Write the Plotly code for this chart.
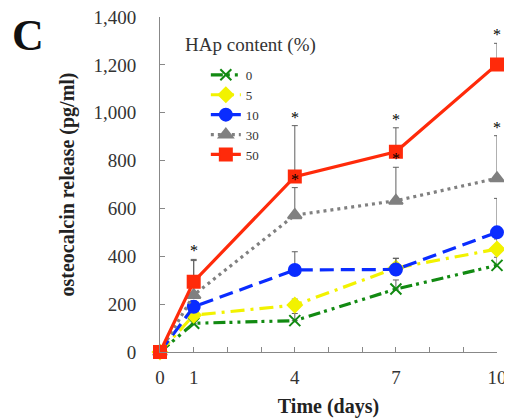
import plotly.graph_objects as go

days = [0, 1, 4, 7, 10]
series_names = ["0", "5", "10", "30", "50"]
hap0 = [0, 120, 131, 263, 362]
hap5 = [0, 154, 196, 351, 430]
hap10 = [0, 189, 343, 345, 500]
hap30 = [0, 238, 572, 632, 726]
hap50 = [0, 294, 733, 837, 1202]
err0 = [0, 12, 30, 38, 34]
err5 = [0, 18, 25, 40, 42]
err10 = [0, 25, 76, 47, 142]
err30 = [0, 144, 115, 140, 178]
err50 = [0, 93, 213, 100, 88]
# significance stars: (day, series index)
stars = [(1, 4), (4, 4), (4, 3), (7, 4), (7, 3), (10, 4), (10, 3)]

x_tickvals = list(range(0, 11))
x_ticktext = ["0", "1", "", "", "4", "", "", "7", "", "", "10"]
y_tickvals = [0, 200, 400, 600, 800, 1000, 1200, 1400]
y_ticktext = ["0", "200", "400", "600", "800", "1,000", "1,200", "1,400"]

values = [hap0, hap5, hap10, hap30, hap50]
errors = [err0, err5, err10, err30, err50]
colors = ["#128a12", "#f2f200", "#0a2cff", "#808080", "#ff2a0a"]
dashes = ["12px,4px,3px,5px,3px,5px", "14px,6px,3px,6px", "14px,7px", "3px,4px", "solid"]
symbols = ["x-thin-open", "diamond", "circle", "triangle-up", "square"]
sizes = [11, 11, 12, 12, 12]

FONT = "Liberation Serif, Times New Roman, serif"
fig = go.Figure()
for i in range(5):
    fig.add_trace(go.Scatter(
        x=days, y=values[i], name=series_names[i], mode="lines+markers",
        line=dict(color=colors[i], width=3.2, dash=dashes[i]),
        marker=dict(symbol=symbols[i], size=sizes[i], color=colors[i],
                    line=dict(color=colors[i], width=2)),
        error_y=dict(type="data", symmetric=False, array=errors[i],
                     arrayminus=[0] * 5, color="#606060", thickness=1, width=3),
        cliponaxis=False,
    ))

for d, s in stars:
    idx = days.index(d)
    fig.add_annotation(x=d, y=values[s][idx] + errors[s][idx], text="*",
                       showarrow=False, yanchor="bottom", yshift=-2,
                       font=dict(family=FONT, size=16, color="black"))

fig.add_annotation(xref="paper", yref="paper", x=0.068, y=0.916, text="HAp content (%)",
                   showarrow=False, xanchor="left", yanchor="middle",
                   font=dict(family=FONT, size=19, color="#333"))
fig.add_annotation(xref="paper", yref="paper", x=-0.445, y=1.025, text="<b>C</b>",
                   showarrow=False, xanchor="left", yanchor="top",
                   font=dict(family=FONT, size=44, color="#111"))

# page body has an 8px margin, so the figure is sized/offset to compensate
fig.update_layout(
    width=504, height=410,
    margin=dict(l=152, r=15, t=9, b=66),
    paper_bgcolor="white", plot_bgcolor="white",
    font=dict(family=FONT, size=19, color="#333"),
    showlegend=True,
    legend=dict(x=0.136, y=0.872, xanchor="left", yanchor="top",
                bgcolor="rgba(0,0,0,0)", font=dict(size=13, color="#333"),
                itemwidth=30),
    xaxis=dict(range=[0, 10], tickvals=x_tickvals, ticktext=x_ticktext,
               ticks="inside", ticklen=5, tickcolor="#888", showline=True,
               linecolor="#888", linewidth=1, showgrid=False, zeroline=False,
               automargin=False, ticklabelstandoff=8, ticklabeloverflow="allow",
               title=dict(text="<b>Time (days)</b>", font=dict(size=20, color="#222"), standoff=14)),
    yaxis=dict(range=[0, 1400], tickvals=y_tickvals, ticktext=y_ticktext,
               ticks="inside", ticklen=5, tickcolor="#888", showline=True,
               linecolor="#888", linewidth=1, showgrid=False, zeroline=False,
               automargin=False, ticklabelstandoff=19, ticklabeloverflow="allow",
               title=dict(text="<b>osteocalcin release (pg/ml)</b>", font=dict(size=20, color="#222"), standoff=13)),
)

fig.write_html("out.html")
